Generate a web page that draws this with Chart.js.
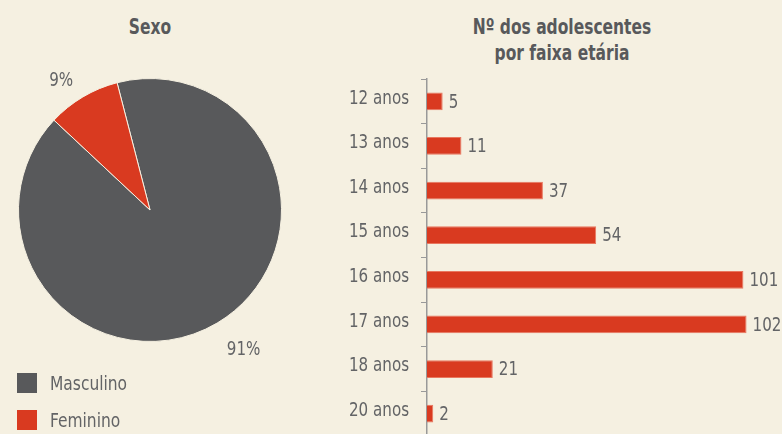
<!DOCTYPE html>
<html>
<head>
<meta charset="utf-8">
<script src="https://cdn.jsdelivr.net/npm/chart.js@4"></script>
<style>
  html, body { margin: 0; padding: 0; background: #f5f0e1; overflow: hidden; }
  body { width: 782px; height: 434px; position: relative; font-family: 'Liberation Sans Narrow', 'DejaVu Sans Condensed', sans-serif; color: #636466; }
  .title { position: absolute; font-weight: bold; font-size: 21px; line-height: 26px; text-align: center; color: #58595b; transform: scaleX(0.82); transform-origin: center; }
  #pieWrap { position: absolute; left: 0; top: 0; width: 300px; height: 420px; }
  #barWrap { position: absolute; left: 330px; top: 0; width: 452px; height: 460px; }
  .legend { position: absolute; left: 17px; font-size: 20px; height: 20px; line-height: 20px; }
  .legend span.box { position: absolute; left: 0; top: 0; width: 20px; height: 20px; }
  .legend span.txt { position: absolute; left: 33px; top: 0; white-space: nowrap; transform: scaleX(0.86); transform-origin: left center; }
</style>
</head>
<body>
<div class="title" style="left:90px; top:14px; width:120px;">Sexo</div>
<div class="title" style="left:432px; top:14px; width:260px;">Nº dos adolescentes<br>por faixa etária</div>
<div id="pieWrap"><canvas id="pie"></canvas></div>
<div id="barWrap"><canvas id="bar"></canvas></div>
<div id="legend"></div>
<script>
const sexLabels = ['Masculino', 'Feminino'];
const sexValues = [91, 9];
const sexColors = ['#58595b', '#d93a20'];

const ageLabels = ['12 anos', '13 anos', '14 anos', '15 anos', '16 anos', '17 anos', '18 anos', '20 anos'];
const ageValues = [5, 11, 37, 54, 101, 102, 21, 2];

const fontFamily = "'Liberation Sans Narrow', 'DejaVu Sans Condensed', sans-serif";
const textColor = '#636466';
const narrow = 0.84;
Chart.defaults.font.family = fontFamily;
Chart.defaults.color = textColor;

// legend built from the same arrays
let legend = document.getElementById('legend');
sexLabels.forEach((lab, i) => {
    let item = document.createElement('div');
    item.className = 'legend';
    item.style.top = (373 + i * 37) + 'px';
    item.innerHTML = '<span class="box" style="background:' + sexColors[i] + '"></span><span class="txt">' + lab + '</span>';
    legend.appendChild(item);
});

// text squeezed horizontally to imitate the condensed face
function drawNarrow(ctx, text, x, y, align) {
    ctx.save();
    ctx.translate(x, y);
    ctx.scale(narrow, 1);
    ctx.font = '20px ' + fontFamily;
    ctx.fillStyle = textColor;
    ctx.textAlign = align;
    ctx.textBaseline = 'middle';
    ctx.fillText(text, 0, 0);
    ctx.restore();
}

const pieLabels = {
    id: 'pieLabels',
    afterDatasetsDraw(chart) {
        const ctx = chart.ctx;
        const meta = chart.getDatasetMeta(0);
        meta.data.forEach((arc, i) => {
            const mid = (arc.startAngle + arc.endAngle) / 2;
            const r = arc.outerRadius + 19;
            const x = arc.x + Math.cos(mid) * r;
            const y = arc.y + Math.sin(mid) * r + (Math.sin(mid) > 0 ? 10 : 0);
            drawNarrow(ctx, sexValues[i] + '%', x, y, Math.cos(mid) < 0 ? 'right' : 'left');
        });
    }
};

new Chart(document.getElementById('pie'), {
    type: 'pie',
    data: {
        labels: sexLabels,
        datasets: [{
            data: sexValues,
            backgroundColor: sexColors,
            borderColor: '#f5f0e1',
            borderWidth: 1
        }]
    },
    options: {
        responsive: true,
        maintainAspectRatio: false,
        animation: false,
        rotation: -14.5,
        layout: { padding: { left: 18, right: 18, top: 78, bottom: 78 } },
        plugins: {
            legend: { display: false },
            tooltip: { enabled: false }
        }
    },
    plugins: [pieLabels]
});

const barLabels = {
    id: 'barLabels',
    afterDatasetsDraw(chart) {
        const ctx = chart.ctx;
        const meta = chart.getDatasetMeta(0);
        const yScale = chart.scales.y;
        meta.data.forEach((bar, i) => {
            drawNarrow(ctx, String(ageValues[i]), bar.x + 6, bar.y + 1, 'left');
        });
        yScale.ticks.forEach((t, i) => {
            drawNarrow(ctx, yScale.getLabelForValue(t.value), chart.chartArea.left - 18, yScale.getPixelForTick(i) - 3, 'right');
        });
    }
};

new Chart(document.getElementById('bar'), {
    type: 'bar',
    data: {
        labels: ageLabels,
        datasets: [{
            data: ageValues,
            backgroundColor: '#d93a20',
            borderColor: '#e8775f',
            borderWidth: 1,
            barPercentage: 0.4,
            categoryPercentage: 1
        }]
    },
    options: {
        indexAxis: 'y',
        responsive: true,
        maintainAspectRatio: false,
        animation: false,
        layout: { padding: { left: 0, right: 1, top: 79, bottom: 19 } },
        scales: {
            x: { display: false, min: 0, max: 113 },
            y: {
                afterFit(scale) { scale.width = 97; },
                grid: { drawOnChartArea: false, tickLength: 6, color: '#999999', offset: true },
                border: { display: true, color: '#999999', width: 1.5 },
                ticks: { padding: 12, font: { size: 20 }, color: 'rgba(0,0,0,0)' }
            }
        },
        plugins: {
            legend: { display: false },
            tooltip: { enabled: false }
        }
    },
    plugins: [barLabels]
});
</script>
</body>
</html>
